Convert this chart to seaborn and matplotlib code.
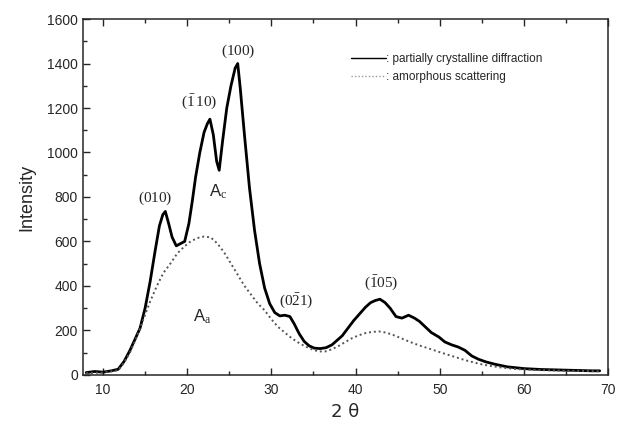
import numpy as np
import pandas as pd
import matplotlib
matplotlib.use("Agg")
import matplotlib.pyplot as plt
import seaborn as sns
from matplotlib.ticker import MultipleLocator

# --- data ---
two_theta_cryst = [8, 9, 10, 11, 11.8, 12.5, 13.2, 13.8, 14.4, 15.0, 15.6, 16.2, 16.7, 17.1, 17.4,
                   17.8, 18.2, 18.7, 19.2, 19.7, 20.2, 20.6, 21.0, 21.5, 22.0, 22.4, 22.7, 23.1,
                   23.5, 23.8, 24.2, 24.7, 25.2, 25.7, 26.0, 26.3, 26.8, 27.4, 28.0, 28.6, 29.2,
                   29.8, 30.4, 31.0, 31.6, 32.2, 32.7, 33.3, 33.9, 34.5, 35.1, 35.8, 36.5, 37.2,
                   37.8, 38.4, 39.0, 39.8, 40.5, 41.2, 41.8, 42.4, 42.9, 43.5, 44.1, 44.8, 45.5,
                   46.3, 47.0, 47.6, 48.3, 49.0, 49.9, 50.6, 51.4, 52.2, 53.0, 53.8, 54.6, 55.5,
                   56.5, 58.0, 60.0, 62.0, 64.0, 66.0, 68.0, 69.0]
intensity_cryst = [10, 15, 12, 18, 25, 60, 110, 160, 210, 300, 420, 560, 670, 720, 735,
                   680, 620, 580, 590, 600, 680, 780, 890, 1000, 1090, 1130, 1150, 1080,
                   960, 920, 1050, 1200, 1300, 1380, 1400, 1290, 1080, 840, 650, 500, 390,
                   320, 280, 265, 268, 262, 230, 185, 150, 130, 120, 118, 122, 135,
                   155, 175, 205, 245, 275, 305, 325, 335, 340, 325, 300, 262, 255,
                   268, 255, 240, 215, 190, 170, 148, 135, 125, 110, 85, 70, 58,
                   48, 36, 28, 24, 22, 20, 18, 18]

two_theta_amorph = [8, 10, 11.8, 12.5, 13.2, 14.0, 14.8, 15.6, 16.4, 17.2, 18.0, 18.8, 19.6, 20.4,
                    21.2, 22.0, 22.8, 23.6, 24.4, 25.2, 26.0, 26.8, 27.6, 28.4, 29.2, 30.0, 30.8,
                    31.6, 32.4, 33.2, 34.0, 34.8, 35.6, 36.4, 37.2, 38.0, 38.8, 39.6, 40.4, 41.2,
                    42.0, 42.8, 43.6, 44.4, 45.2, 46.0, 46.8, 47.6, 48.4, 49.2, 50.0, 51.0, 52.0,
                    53.0, 54.0, 55.0, 56.0, 57.5, 59.0, 61.0, 63.0, 66.0, 69.0]
intensity_amorph = [8, 10, 20, 55, 100, 170, 250, 330, 400, 460, 500, 545, 575, 600,
                    615, 622, 618, 590, 550, 500, 450, 400, 360, 320, 290, 250, 215,
                    190, 165, 145, 128, 115, 105, 105, 115, 130, 148, 165, 178, 188,
                    193, 195, 190, 180, 168, 155, 143, 132, 122, 112, 102, 90, 78,
                    66, 56, 47, 40, 32, 26, 22, 20, 18, 16]

peak_labels = [r"$\mathrm{(010)}$", r"$\mathrm{(\bar{1}\,10)}$", r"$\mathrm{(100)}$",
               r"$\mathrm{(0\bar{2}1)}$", r"$\mathrm{(\bar{1}05)}$"]
peak_label_x = [16.2, 21.4, 26.1, 33.0, 43.1]
peak_label_y = [795, 1227, 1456, 328, 413]

series_names = [": partially crystalline diffraction", ": amorphous scattering"]

# --- build table ---
df = pd.concat([
    pd.DataFrame({"two_theta": two_theta_cryst, "intensity": intensity_cryst, "series": series_names[0]}),
    pd.DataFrame({"two_theta": two_theta_amorph, "intensity": intensity_amorph, "series": series_names[1]}),
], ignore_index=True)

sns.set_style("ticks")
plt.rcParams["font.family"] = ["Liberation Sans", "DejaVu Sans"]
plt.rcParams["mathtext.fontset"] = "custom"
plt.rcParams["mathtext.rm"] = "Liberation Serif"
plt.rcParams["mathtext.it"] = "Liberation Serif:italic"

fig = plt.figure(figsize=(6.18, 4.24), dpi=100)
ax = fig.add_axes([0.134, 0.116, 0.850, 0.839])

sns.lineplot(data=df[df.series == series_names[0]], x="two_theta", y="intensity",
             color="black", lw=2.0, ax=ax, label=series_names[0])
sns.lineplot(data=df[df.series == series_names[1]], x="two_theta", y="intensity",
             color="#555555", lw=1.4, ls=(0, (1, 1.5)), ax=ax, label=series_names[1])

ax.set_xlim(7.6, 70)
ax.set_ylim(0, 1600)
ax.xaxis.set_major_locator(MultipleLocator(10))
ax.xaxis.set_minor_locator(MultipleLocator(5))
ax.yaxis.set_major_locator(MultipleLocator(200))
ax.yaxis.set_minor_locator(MultipleLocator(100))
ax.tick_params(which="both", direction="in", top=True, right=False, labelsize=10, width=1)
ax.tick_params(which="major", length=5)
ax.tick_params(which="minor", length=3)
ax.tick_params(axis="x", pad=6)
for s in ax.spines.values():
    s.set_linewidth(1.1)
    s.set_visible(True)

ax.set_xlabel("2 θ", fontsize=13, family=["DejaVu Sans"])
ax.set_ylabel("Intensity", fontsize=13, labelpad=8)

for t, x, y in zip(peak_labels, peak_label_x, peak_label_y):
    ax.text(x, y, t, ha="center", va="center", fontsize=11)

ax.text(23.7, 822, r"A$_\mathrm{c}$", ha="center", va="center", fontsize=12)
ax.text(21.8, 261, r"A$_\mathrm{a}$", ha="center", va="center", fontsize=12)

leg = ax.legend(loc="upper left", bbox_to_anchor=(0.49, 0.935), frameon=False,
                fontsize=8.5, handlelength=3.0, handletextpad=0.0, labelspacing=0.5)
leg.legend_handles[0].set_linewidth(1.0)
leg.legend_handles[1].set_linewidth(1.0)
leg.legend_handles[1].set_color("#999999")

fig.savefig("out.png", dpi=100)
